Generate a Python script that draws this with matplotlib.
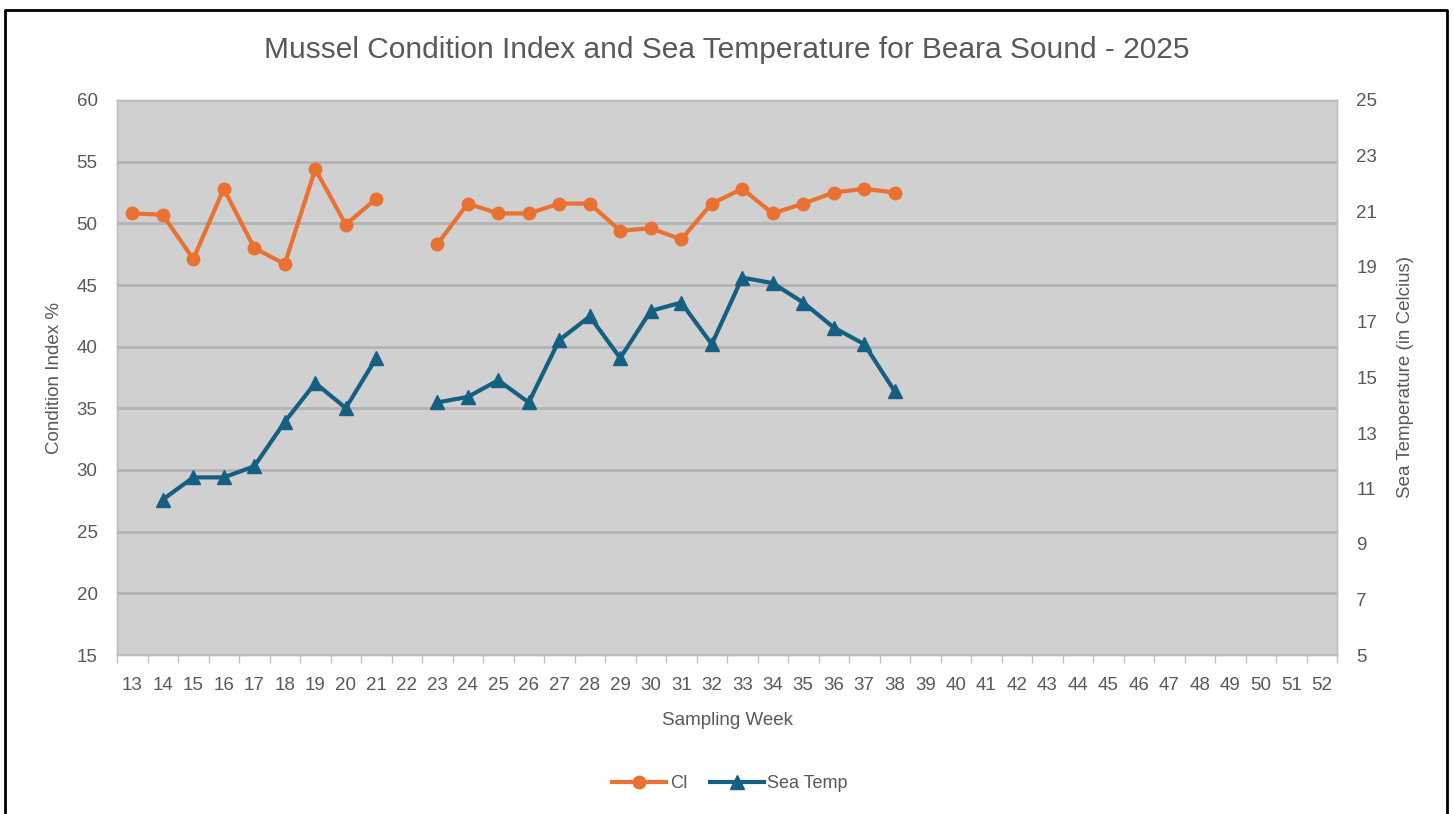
import numpy as np
import matplotlib
matplotlib.use("Agg")
import matplotlib.pyplot as plt
from matplotlib.lines import Line2D

# sampling weeks shown on the axis
weeks = list(range(13, 53))

# condition index % (weeks 13-38, no sample in week 22)
ci_values = [50.8, 50.7, 47.1, 52.8, 48.0, 46.7, 54.4, 49.9, 52.0, np.nan,
             48.3, 51.6, 50.8, 50.8, 51.6, 51.6, 49.4, 49.6, 48.7, 51.6,
             52.8, 50.8, 51.6, 52.5, 52.8, 52.5]

# sea temperature in Celcius (no reading in weeks 13 and 22)
temp_values = [np.nan, 10.6, 11.4, 11.4, 11.8, 13.4, 14.8, 13.9, 15.7, np.nan,
               14.1, 14.3, 14.9, 14.1, 16.35, 17.2, 15.7, 17.4, 17.7, 16.2,
               18.6, 18.4, 17.7, 16.8, 16.2, 14.5]

# pad the series out to week 52
ci = ci_values + [np.nan] * (len(weeks) - len(ci_values))
temp = temp_values + [np.nan] * (len(weeks) - len(temp_values))

orange = "#E97132"
blue = "#156082"
grey_txt = "#595959"

plt.rcParams['font.family'] = ['Liberation Sans', 'DejaVu Sans']

fig = plt.figure(figsize=(14.53, 8.14), dpi=100)
ax = fig.add_axes([117 / 1453, 159 / 814, 1220 / 1453, 555 / 814])
ax2 = ax.twinx()

ax.set_facecolor("#D0D0D0")
ax.set_xlim(12.5, 52.5)
ax.set_ylim(15, 60)
ax.set_yticks(range(15, 61, 5))
ax2.set_ylim(5, 25)
ax2.set_yticks(range(5, 26, 2))

ax.grid(axis='y', color="#B3B3B3", linewidth=2)
ax.set_axisbelow(True)

for a in (ax, ax2):
    for s in a.spines.values():
        s.set_color("#BFBFBF")
        s.set_linewidth(1)
    a.tick_params(axis='y', length=0, labelsize=13.5, labelcolor=grey_txt, pad=14)

ax.set_xticks(weeks)
ax.set_xticklabels([str(w) for w in weeks])
ax.set_xticks(np.arange(12.5, 53, 1), minor=True)
ax.tick_params(axis='x', which='major', length=0, labelsize=13.5,
               labelcolor=grey_txt, pad=16)
ax.tick_params(axis='x', which='minor', length=6, color="#BFBFBF", width=1)

l1, = ax.plot(weeks, ci, color=orange, linewidth=3, marker='o', markersize=9,
              label="CI", zorder=3)
l2, = ax2.plot(weeks, temp, color=blue, linewidth=3, marker='^', markersize=10,
               label="Sea Temp", zorder=3)

ax.set_ylabel("Condition Index %", fontsize=13.5, color=grey_txt, labelpad=10)
ax2.set_ylabel("Sea Temperature (in Celcius)", fontsize=13.5, color=grey_txt,
               labelpad=14)
ax.set_xlabel("Sampling Week", fontsize=13.5, color=grey_txt, labelpad=13)

fig.text(727 / 1453, 1 - 50 / 814,
         "Mussel Condition Index and Sea Temperature for Beara Sound - 2025",
         ha='center', va='center', fontsize=21.5, color=grey_txt)

leg = fig.legend(handles=[l1, l2], loc='center', bbox_to_anchor=(730 / 1453, 1 - 784 / 814),
                 ncol=2, frameon=False, fontsize=13, handlelength=3,
                 columnspacing=1.2, handletextpad=0.2)
for t in leg.get_texts():
    t.set_color(grey_txt)

# screenshot frame
fig.add_artist(Line2D([5 / 1453, 5 / 1453, 1447 / 1453, 1447 / 1453],
                      [0, 1 - 10 / 814, 1 - 10 / 814, 0],
                      transform=fig.transFigure, color="black", linewidth=2))

fig.savefig("out.png", dpi=100, facecolor="white")
